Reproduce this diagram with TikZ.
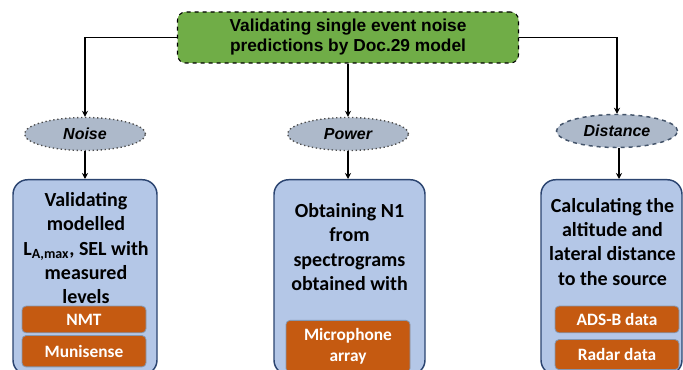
\documentclass[tikz,border=0pt]{standalone}
\usepackage{fontspec}
\setmainfont{Liberation Sans}
\newfontfamily\calfont{Carlito}
\usetikzlibrary{arrows.meta,positioning,shapes.geometric}
\definecolor{titlegreen}{HTML}{70AD47}
\definecolor{ovalgray}{HTML}{ADB9CA}
\definecolor{ovalline}{HTML}{44546A}
\definecolor{panelblue}{HTML}{B4C7E7}
\definecolor{panelline}{HTML}{2B4470}
\definecolor{tagorange}{HTML}{C55A11}
\definecolor{tagline}{HTML}{8497B0}

\begin{document}
\begin{tikzpicture}[
  x=0.75pt, y=-0.75pt,
  title/.style={draw, dashed, line width=0.8pt, fill=titlegreen, rounded corners=6pt, align=center,
    minimum width=255.75pt, minimum height=38.25pt, font=\fontsize{13}{15}\selectfont\bfseries},
  oval/.style={ellipse, fill=ovalgray, inner sep=0pt, minimum width=90.75pt, minimum height=24.75pt,
    font=\fontsize{12}{14}\selectfont\bfseries\itshape},
  panel/.style={draw=panelline, line width=1.1pt, fill=panelblue, rounded corners=11pt,
    anchor=north, minimum height=146.25pt},
  paneltext/.style={align=center, anchor=north, inner sep=0pt, font=\calfont\fontsize{15}{18.3}\selectfont\bfseries},
  tag/.style={draw=tagline, line width=0.6pt, fill=tagorange, rounded corners=3pt, align=center,
    minimum width=93pt, text=white, inner sep=1pt, font=\calfont\fontsize{13}{15.5}\selectfont\bfseries},
  arr/.style={line width=1.2pt, -{Stealth[length=4.5pt, width=4.5pt]}}
]
\path[use as bounding box, clip] (0,0) rectangle (683,370);

\node[title] (goal) at (348,37.5) {Validating single event noise\\predictions by Doc.29 model};

\node[oval, draw=black!70, dotted, line width=1pt] (noise) at (85,134) {Noise};
\node[oval, draw=black!70, dotted, line width=1pt] (power) at (348,134) {Power};
\node[oval, draw=ovalline, dashed, line width=1.1pt] (dist) at (617,131) {Distance};

% panels
\node[panel, minimum width=108pt] (noisebox) at (85,179) {};
\node[panel, minimum width=113.25pt] (powerbox) at (349.5,179) {};
\node[panel, minimum width=105.75pt] (distbox) at (611.5,179) {};

\node[paneltext] (noisetxt) at (86,192) {Validating\\modelled\\L\textsubscript{A,max}, SEL with\\measured\\levels};
\node[paneltext] (powertxt) at (349.5,203) {Obtaining N1\\from\\spectrograms\\obtained with};
\node[paneltext] (disttxt) at (612.5,197.7) {Calculating the\\altitude and\\lateral distance\\to the source};

% data sources
\node[tag, anchor=north, minimum height=20pt] (nmt) at (84,305.7) {NMT};
\node[tag, below=1.5pt of nmt, minimum height=23.5pt] (muni) {Munisense};
\node[tag, anchor=north, minimum height=39pt] (mic) at (348,320) {Microphone\\array};
\node[tag, anchor=north, minimum height=20pt] (adsb) at (617,305.7) {ADS-B data};
\node[tag, below=4.5pt of adsb, minimum height=22.5pt] (radar) {Radar data};

\draw[arr] (goal.west) -| (noise.north);
\draw[arr] (goal.south) -- (power.north);
\draw[arr] (goal.east) -| (dist.north);
\draw[arr] (noise.south) -- (noise.south |- noisebox.north);
\draw[arr] (power.south) -- (power.south |- powerbox.north);
\draw[arr] ([xshift=1.5pt]dist.south) -- ([xshift=1.5pt]dist.south |- distbox.north);
\end{tikzpicture}
\end{document}
